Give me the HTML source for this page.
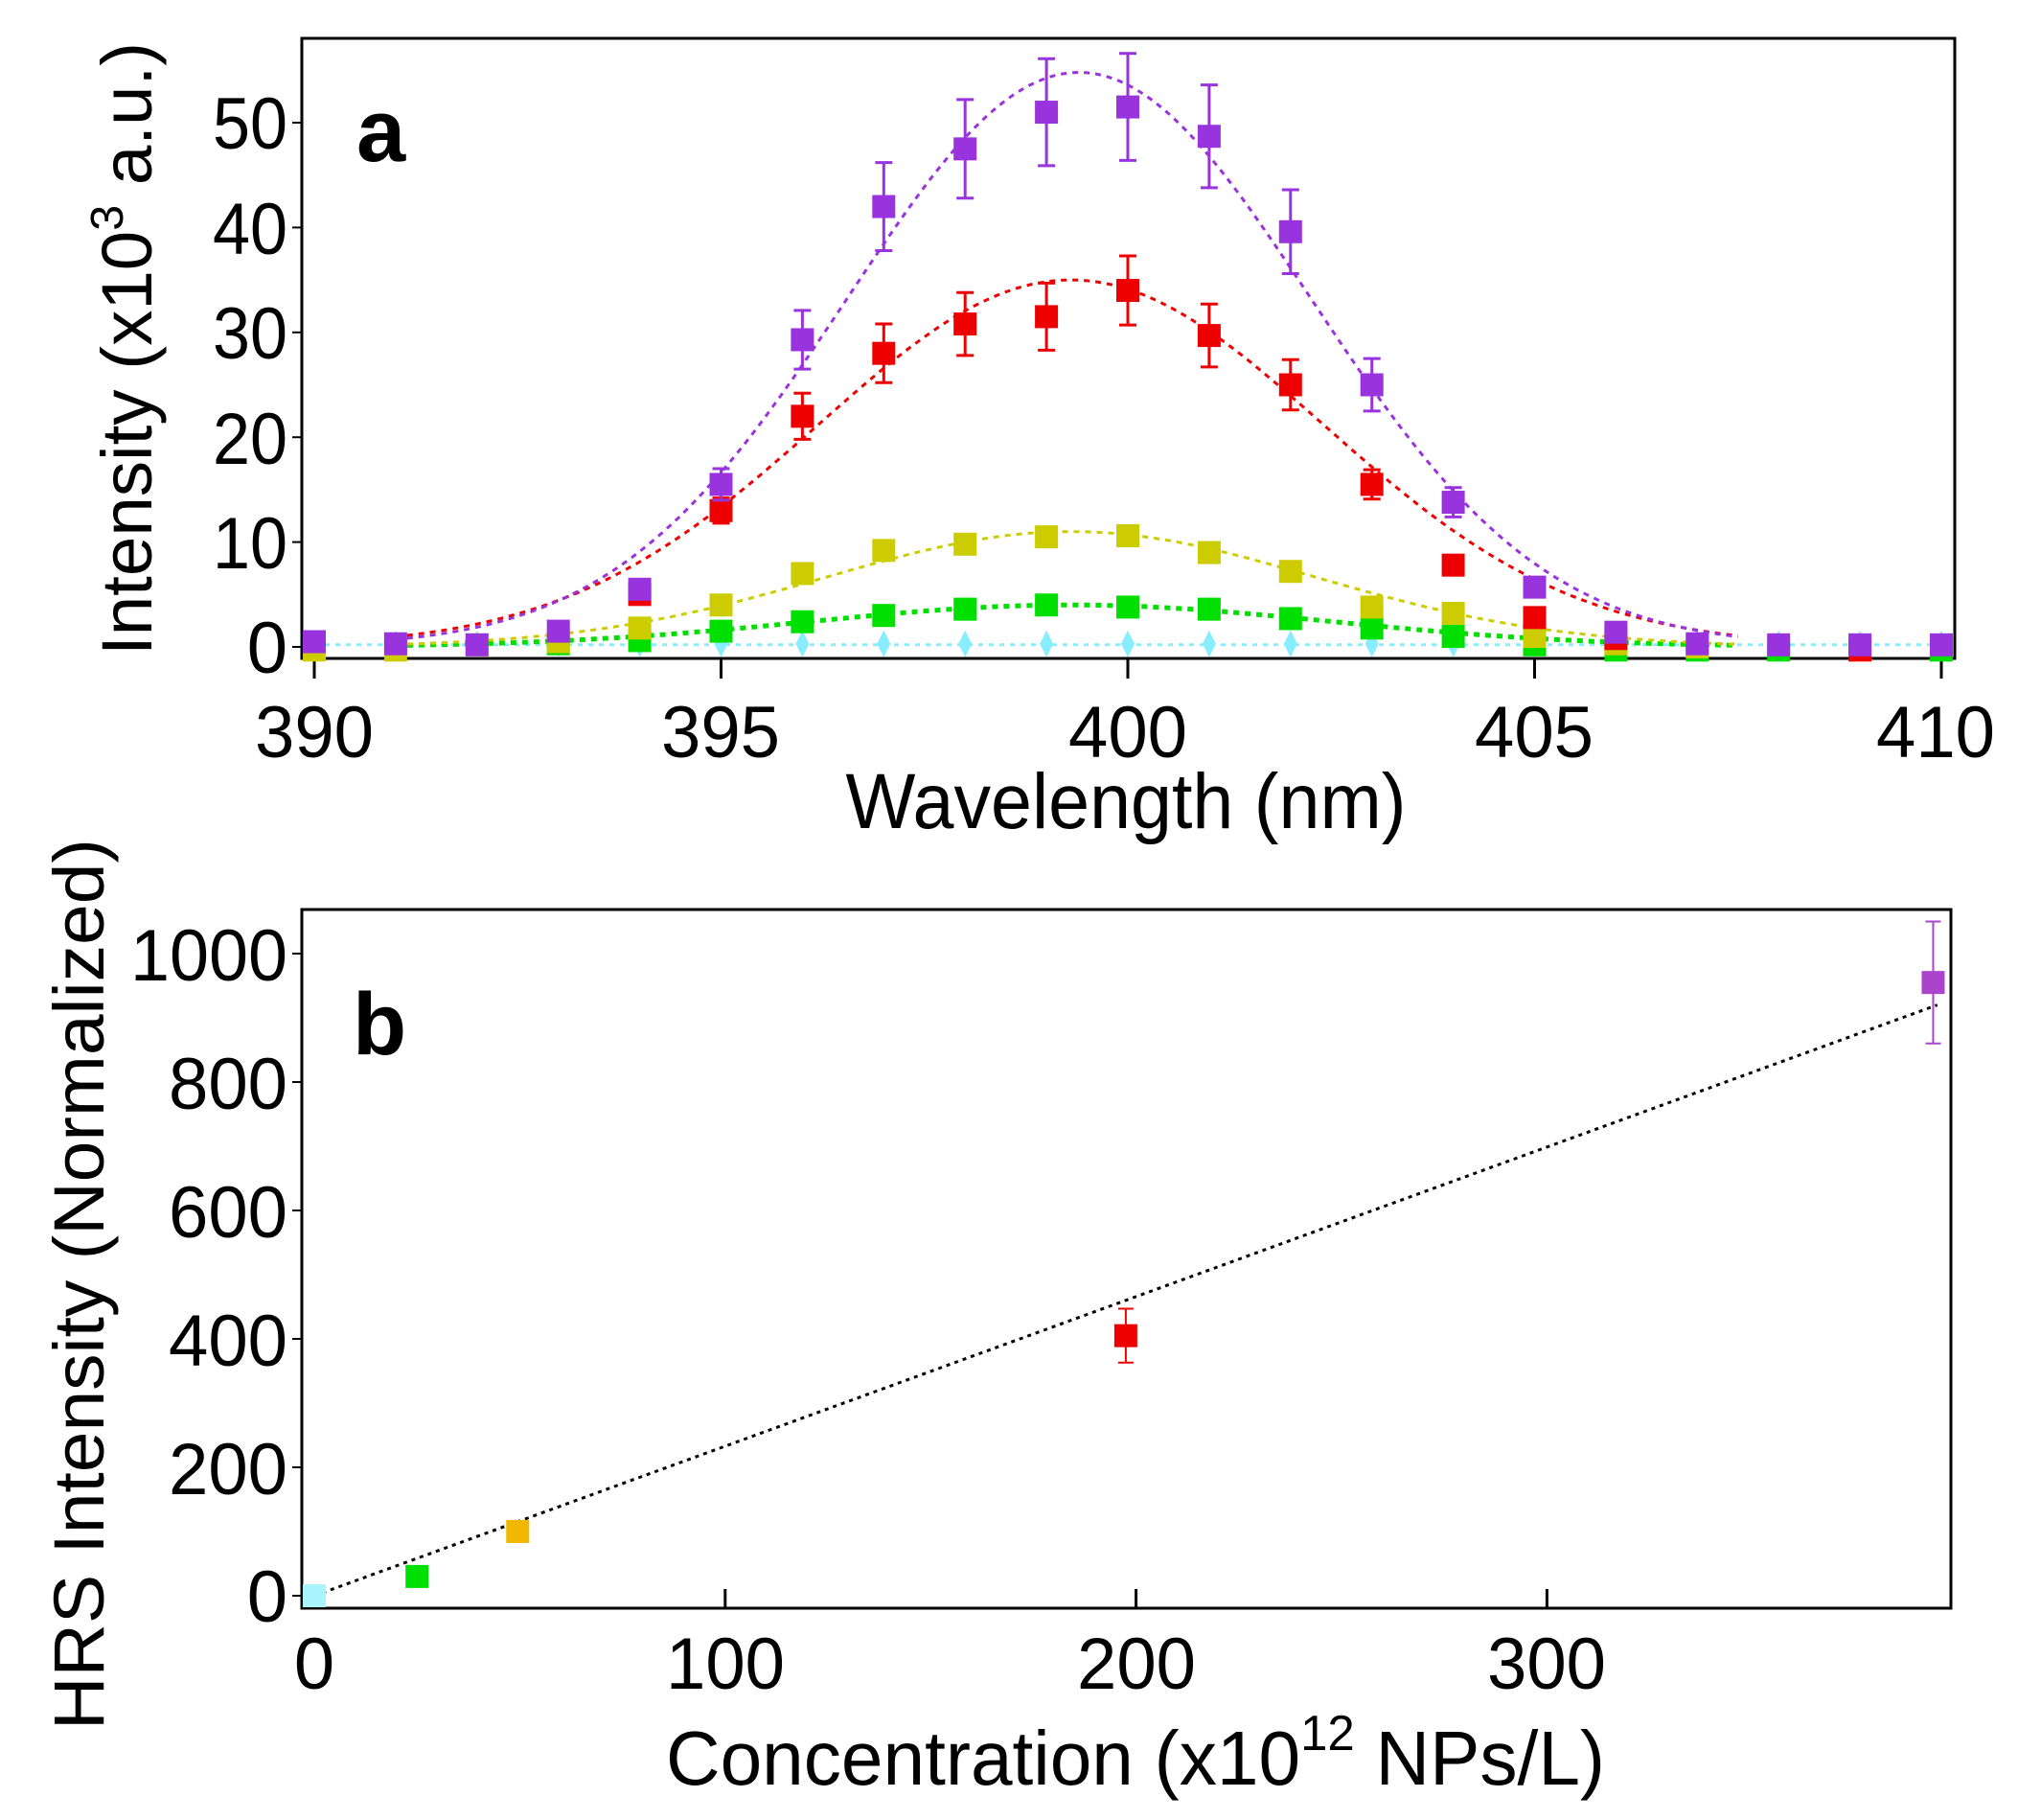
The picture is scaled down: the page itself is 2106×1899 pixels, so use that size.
<!DOCTYPE html>
<html><head><meta charset="utf-8"><style>
html,body{margin:0;padding:0;background:#fff;}
svg{display:block;font-family:"Liberation Sans",Arial,sans-serif;}
</style></head><body>
<svg id="s" width="2106" height="1899" viewBox="0 0 2106 1899" xmlns="http://www.w3.org/2000/svg">
<rect width="2106" height="1899" fill="#fff"/>
<rect x="315" y="40" width="1725" height="647" fill="none" stroke="#000" stroke-width="3"/>
<g font-size="76" fill="#000" text-anchor="end" lengthAdjust="spacingAndGlyphs">
<text x="300" y="702">0</text>
<text x="300" y="593" textLength="78" lengthAdjust="spacingAndGlyphs">10</text>
<text x="300" y="484" textLength="78" lengthAdjust="spacingAndGlyphs">20</text>
<text x="300" y="374" textLength="78" lengthAdjust="spacingAndGlyphs">30</text>
<text x="300" y="265" textLength="78" lengthAdjust="spacingAndGlyphs">40</text>
<text x="300" y="155" textLength="78" lengthAdjust="spacingAndGlyphs">50</text>
</g>
<g font-size="76" fill="#000" text-anchor="middle">
<text x="328" y="790" textLength="124" lengthAdjust="spacingAndGlyphs">390</text>
<text x="752" y="790" textLength="124" lengthAdjust="spacingAndGlyphs">395</text>
<text x="1177" y="790" textLength="124" lengthAdjust="spacingAndGlyphs">400</text>
<text x="1601" y="790" textLength="124" lengthAdjust="spacingAndGlyphs">405</text>
<text x="2020" y="790" textLength="124" lengthAdjust="spacingAndGlyphs">410</text>
</g>
<text x="1175" y="864" font-size="82" text-anchor="middle" textLength="585" lengthAdjust="spacingAndGlyphs">Wavelength (nm)</text>
<text transform="translate(158,364) rotate(-90)" font-size="74" text-anchor="middle" textLength="640" lengthAdjust="spacingAndGlyphs">Intensity (x10<tspan dy="-30" font-size="48">3</tspan><tspan dy="30"> a.u.)</tspan></text>
<text x="372" y="168" font-size="92" font-weight="bold">a</text>
<rect x="315" y="949" width="1721" height="729" fill="none" stroke="#000" stroke-width="3"/>
<g font-size="76" fill="#000" text-anchor="end">
<text x="300" y="1692">0</text>
<text x="300" y="1559" textLength="124" lengthAdjust="spacingAndGlyphs">200</text>
<text x="300" y="1425" textLength="124" lengthAdjust="spacingAndGlyphs">400</text>
<text x="300" y="1291" textLength="124" lengthAdjust="spacingAndGlyphs">600</text>
<text x="300" y="1157" textLength="124" lengthAdjust="spacingAndGlyphs">800</text>
<text x="300" y="1023" textLength="164" lengthAdjust="spacingAndGlyphs">1000</text>
</g>
<g font-size="76" fill="#000" text-anchor="middle">
<text x="328" y="1762">0</text>
<text x="757" y="1762" textLength="124" lengthAdjust="spacingAndGlyphs">100</text>
<text x="1186" y="1762" textLength="124" lengthAdjust="spacingAndGlyphs">200</text>
<text x="1614" y="1762" textLength="124" lengthAdjust="spacingAndGlyphs">300</text>
</g>
<text x="695" y="1862" font-size="80" textLength="980" lengthAdjust="spacingAndGlyphs">Concentration (x10<tspan dy="-36" font-size="52">12</tspan><tspan dy="36"> NPs/L)</tspan></text>
<text transform="translate(108,1340) rotate(-90)" font-size="74" text-anchor="middle" textLength="930" lengthAdjust="spacingAndGlyphs">HRS Intensity (Normalized)</text>
<text x="368" y="1100" font-size="92" font-weight="bold">b</text>
<g id="a"></g>
<g id="b"></g>
</svg>
<script>
var NS="http://www.w3.org/2000/svg";
function el(p,t,a){var e=document.createElementNS(NS,t);for(var k in a)e.setAttribute(k,a[k]);p.appendChild(e);return e;}
var ga=document.getElementById('a'),gb=document.getElementById('b');
function X(w){return 328+(w-390)*84.9;}
function Y(v){return 675-v*10.94;}
[390,395,400,405,410].forEach(function(w){el(ga,'line',{x1:X(w),x2:X(w),y1:687,y2:708,stroke:'#000','stroke-width':3});});
[0,10,20,30,40,50].forEach(function(v){el(ga,'line',{x1:315,x2:305,y1:Y(v),y2:Y(v),stroke:'#000','stroke-width':2});});
var S=[
{c:'#88eeff',A:0.2,mu:399.3,s:3,flat:true,d:[],dia:true},
{c:'#00e000',A:4,mu:399.3,s:3.2,d:{393:0.3,394:0.6,395:1.5,396:2.4,397:3,398:3.6,399:4,400:3.8,401:3.6,402:2.7,403:1.8,404:1,405:0.2,406:-0.3,407:-0.3,408:-0.3,410:-0.3}},
{c:'#cccc00',A:11,mu:399.3,s:3,d:{390:-0.3,391:-0.3,392:0.2,393:0.5,394:1.8,395:4,396:7,397:9.2,398:9.8,399:10.5,400:10.6,401:9,402:7.2,403:3.8,404:3.2,405:1,406:0.3,407:0}},
{c:'#ee0000',A:35,mu:399.3,s:3.1,d:{394:5,395:13,396:22,397:28,398:30.8,399:31.5,400:34,401:29.7,402:25,403:15.5,404:7.8,405:2.8,406:0.8,409:-0.3},e:{395:1.2,396:2.2,397:2.8,398:3,399:3.2,400:3.3,401:3,402:2.4,403:1.4}},
{c:'#9933dd',A:54.8,mu:399.4,s:2.85,d:{390:0.5,391:0.3,392:0.2,393:1.5,394:5.5,395:15.5,396:29.3,397:42,398:47.5,399:51,400:51.5,401:48.7,402:39.6,403:25,404:13.8,405:5.7,406:1.4,407:0.3,408:0.2,409:0.2,410:0.2},e:{395:1.5,396:2.8,397:4.2,398:4.7,399:5.1,400:5.1,401:4.9,402:4,403:2.5,404:1.4}}
];
S.forEach(function(s){
 var p='';
 if(s.flat){p='M317 '+Y(0.2)+' L2038 '+Y(0.2);}
 else{for(var w=391;w<=407.6;w+=0.1){var v=s.A*Math.exp(-Math.pow(w-s.mu,2)/(2*s.s*s.s));p+=(p?'L':'M')+X(w).toFixed(1)+' '+Y(v).toFixed(1);}}
 el(ga,'path',{d:p,fill:'none',stroke:s.c,'stroke-width':s.c=='#00e000'?5:3,'stroke-dasharray':s.flat?'5 6':'6 6'});
 if(s.dia){for(var w=390;w<=410;w++){var x=X(w),y=Y(0.3);el(ga,'path',{d:'M'+x+' '+(y-14)+'L'+(x+7)+' '+y+'L'+x+' '+(y+14)+'L'+(x-7)+' '+y+'Z',fill:s.c});}return;}
 for(var k in s.d){var x=X(+k),y=Y(s.d[k]);
  if(s.e&&s.e[k]){var e=s.e[k]*10.94;el(ga,'line',{x1:x,x2:x,y1:y-e,y2:y+e,stroke:s.c,'stroke-width':3});
   el(ga,'line',{x1:x-9,x2:x+9,y1:y-e,y2:y-e,stroke:s.c,'stroke-width':3});el(ga,'line',{x1:x-9,x2:x+9,y1:y+e,y2:y+e,stroke:s.c,'stroke-width':3});}
  el(ga,'rect',{x:x-12,y:Math.min(y-12,675),width:24,height:24,fill:s.c});}
});
function BX(c){return 328+c*4.288;}
function BY(v){return 1665-v*0.67;}
[0,100,200,300].forEach(function(c){el(gb,'line',{x1:BX(c),x2:BX(c),y1:1678,y2:1658,stroke:'#000','stroke-width':3});});
[0,200,400,600,800,1000].forEach(function(v){el(gb,'line',{x1:315,x2:305,y1:BY(v),y2:BY(v),stroke:'#000','stroke-width':2});});
el(gb,'line',{x1:BX(0),y1:BY(0),x2:BX(395),y2:BY(920),stroke:'#000','stroke-width':3,'stroke-dasharray':'4 5'});
function bp(c,v,col,e){var x=BX(c),y=BY(v);
 if(e){var h=e*0.67;el(gb,'line',{x1:x,x2:x,y1:y-h,y2:y+h,stroke:col,'stroke-width':2});el(gb,'line',{x1:x-8,x2:x+8,y1:y-h,y2:y-h,stroke:col,'stroke-width':2});el(gb,'line',{x1:x-8,x2:x+8,y1:y+h,y2:y+h,stroke:col,'stroke-width':2});}
 el(gb,'rect',{x:x-12,y:y-12,width:24,height:24,fill:col});}
bp(0,0,'#aaf4ff');bp(25,30,'#00e000');bp(49.5,100,'#f0b800');bp(197.5,405,'#ee0000',42);bp(394,955,'#aa44cc',95);
</script>
</body></html>
